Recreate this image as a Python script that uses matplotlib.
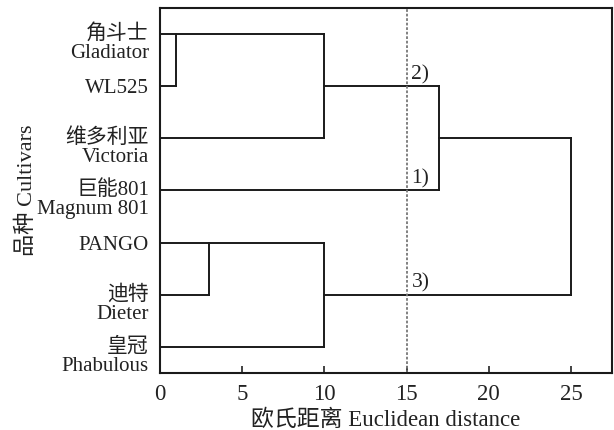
import matplotlib.pyplot as plt
from matplotlib.transforms import ScaledTranslation

plt.rcParams['font.family'] = ['Liberation Serif', 'Noto Sans CJK SC']
plt.rcParams['text.color'] = '#222222'
plt.rcParams['xtick.color'] = '#222222'
plt.rcParams['ytick.color'] = '#222222'
plt.rcParams['axes.labelcolor'] = '#222222'

# leaves, top to bottom
cultivars = ['角斗士\nGladiator', 'WL525', '维多利亚\nVictoria', '巨能801\nMagnum 801',
             'PANGO', '迪特\nDieter', '皇冠\nPhabulous']
# merges: (child a, child b, distance); ids >= 7 are earlier merges
merges = [(0, 1, 1), (4, 5, 3), (7, 2, 10), (8, 6, 10), (9, 3, 17), (11, 10, 25)]
cut_dist = 15
cluster_tags = ['2)', '1)', '3)']
cluster_leaf = [1, 3, 5]

n = len(cultivars)
pos = {i: i for i in range(n)}
height = {i: 0 for i in range(n)}

fig = plt.figure(figsize=(6.14, 4.30), dpi=100)
ax = fig.add_axes([0.2606, 0.1326, 0.7361, 0.8488])

for k, (a, b, d) in enumerate(merges):
    node = n + k
    for c in (a, b):
        ax.plot([height[c], d], [pos[c], pos[c]], color='#1a1a1a', lw=1.4)
    ax.plot([d, d], [pos[a], pos[b]], color='#1a1a1a', lw=1.4)
    if a < n and b < n:
        pos[node] = pos[a]
    else:
        pos[node] = (pos[a] + pos[b]) / 2
    height[node] = d

ax.axvline(cut_dist, color='#777777', lw=1.3, ls=(0, (1.5, 1)))
for tag, leaf in zip(cluster_tags, cluster_leaf):
    ax.text(cut_dist + 0.3, leaf - 0.04, tag, fontsize=15.5, va='bottom', ha='left')

ax.set_xlim(0, 27.5)
ax.set_ylim(n - 0.5, -0.5)
ax.set_xticks([0, 5, 10, 15, 20, 25])
ax.set_yticks(range(n))
ax.set_yticklabels(cultivars, fontsize=15, linespacing=1.0)
ax.tick_params(axis='x', direction='in', length=5, width=1.2, labelsize=16.5, pad=8)
ax.tick_params(axis='y', length=0, pad=8)
shift = ScaledTranslation(0, -5 / 72, fig.dpi_scale_trans)
for lab in ax.get_yticklabels():
    if '\n' in lab.get_text():
        lab.set_transform(lab.get_transform() + shift)
for s in ax.spines.values():
    s.set_linewidth(1.5)
    s.set_color('#1a1a1a')

ax.set_xlabel('欧氏距离 Euclidean distance', fontsize=16.5, labelpad=3)
ax.set_ylabel('品种 Cultivars', fontsize=16, labelpad=0)

fig.savefig('out.png', dpi=100)
